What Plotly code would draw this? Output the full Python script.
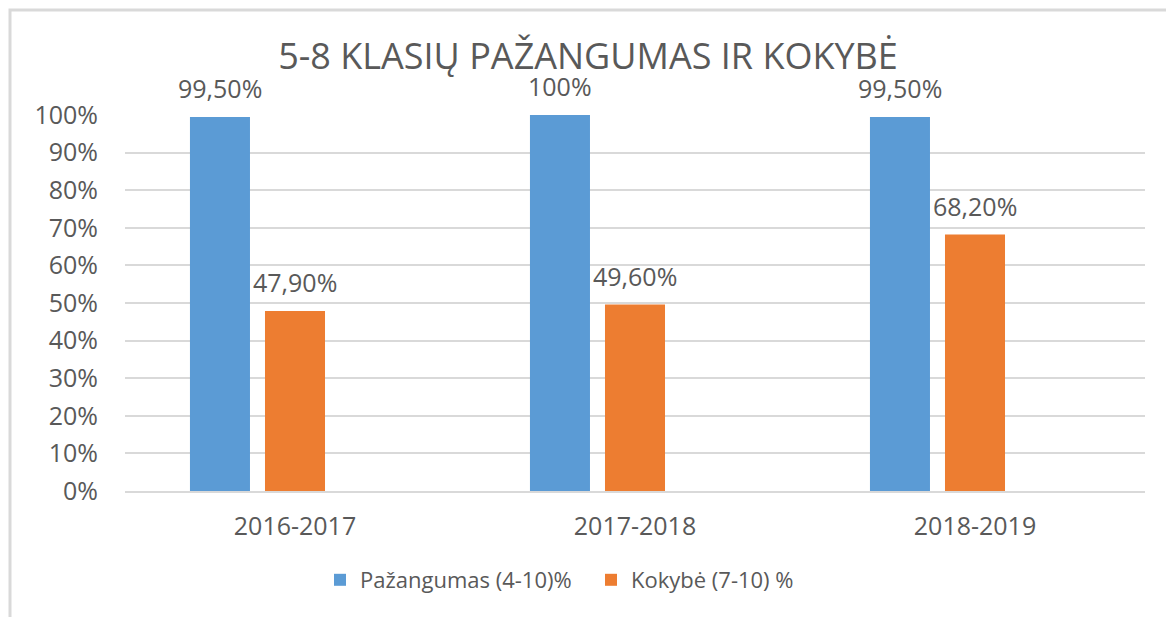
import plotly.graph_objects as go

categories = ["2016-2017", "2017-2018", "2018-2019"]
series_names = ["Pažangumas (4-10)%", "Kokybė (7-10) %"]
pazangumas = [0.995, 1.0, 0.995]
kokybe = [0.479, 0.496, 0.682]
pazangumas_labels = ["99,50%", "100%", "99,50%"]
kokybe_labels = ["47,90%", "49,60%", "68,20%"]
y_ticks = [0, 0.1, 0.2, 0.3, 0.4, 0.5, 0.6, 0.7, 0.8, 0.9, 1.0]
y_tick_labels = ["0%", "10%", "20%", "30%", "40%", "50%", "60%", "70%", "80%", "90%", "100%"]
title_text = "5-8 KLASIŲ PAŽANGUMAS IR KOKYBĖ"

BLUE = "#5B9BD5"
ORANGE = "#ED7D31"
TEXT = "#595959"
GRID = "#D9D9D9"
FONT = "Open Sans"

fig = go.Figure()
fig.add_trace(go.Bar(x=categories, y=pazangumas, name=series_names[0],
                     marker=dict(color=BLUE, line=dict(width=0))))
fig.add_trace(go.Bar(x=categories, y=kokybe, name=series_names[1],
                     marker=dict(color=ORANGE, line=dict(width=0))))
# empty third slot (reference leaves space for a missing series)
fig.add_trace(go.Bar(x=categories, y=[None] * len(categories), showlegend=False,
                     hoverinfo="skip", marker=dict(color="rgba(0,0,0,0)")))

annotations = []
for cat, v, lab in zip(categories, pazangumas, pazangumas_labels):
    annotations.append(dict(x=cat, y=v, text=lab, showarrow=False, xref="x", yref="y",
                            yanchor="bottom", xshift=-75, yshift=10,
                            font=dict(family=FONT, size=25, color=TEXT)))
for cat, v, lab in zip(categories, kokybe, kokybe_labels):
    annotations.append(dict(x=cat, y=v, text=lab, showarrow=False, xref="x", yref="y",
                            yanchor="bottom", xshift=0, yshift=10,
                            font=dict(family=FONT, size=25, color=TEXT)))

# page body has an 8px margin, so the figure is 8px smaller and coordinates shifted
W, H = 1166, 609
L, R, T, B = 117, 29, 107, 126
pw, ph = W - L - R, H - T - B
plot_bottom = H - B

fig.update_layout(
    width=W, height=H,
    margin=dict(l=L, r=R, t=T, b=B, pad=0),
    paper_bgcolor="white", plot_bgcolor="white",
    barmode="group", bargap=0.338, bargroupgap=0.2,
    font=dict(family=FONT, color=TEXT, size=24),
    title=dict(text=title_text, x=(588 - 8) / W, xanchor="center", y=1 - 48 / H, yanchor="middle",
               yref="container", xref="container", font=dict(family=FONT, size=36, color=TEXT)),
    showlegend=True,
    legend=dict(orientation="h", x=(320 - 8 - L) / pw, xanchor="left",
                y=-(572 - plot_bottom) / ph, yanchor="middle",
                font=dict(family=FONT, size=22, color=TEXT), itemwidth=30,
                entrywidth=226, entrywidthmode="pixels",
                traceorder="normal"),
    annotations=annotations,
    shapes=[dict(type="rect", xref="paper", yref="paper",
                 x0=(2 - L) / pw, x1=(W + 20 - L) / pw,
                 y0=-(H + 20 - plot_bottom) / ph, y1=(plot_bottom - 2) / ph,
                 line=dict(color=GRID, width=3), fillcolor="rgba(0,0,0,0)", layer="below")],
)
fig.update_yaxes(range=[0, 1], tickvals=y_ticks, ticktext=y_tick_labels,
                 showgrid=True, gridcolor=GRID, gridwidth=2, zeroline=False,
                 showline=False, ticks="", ticklabelstandoff=26,
                 tickfont=dict(family=FONT, size=25, color=TEXT))
fig.update_xaxes(showgrid=False, showline=True, linecolor=GRID, linewidth=2, ticks="",
                 ticklabelstandoff=12,
                 tickfont=dict(family=FONT, size=25, color=TEXT))

fig.write_html("out.html")
